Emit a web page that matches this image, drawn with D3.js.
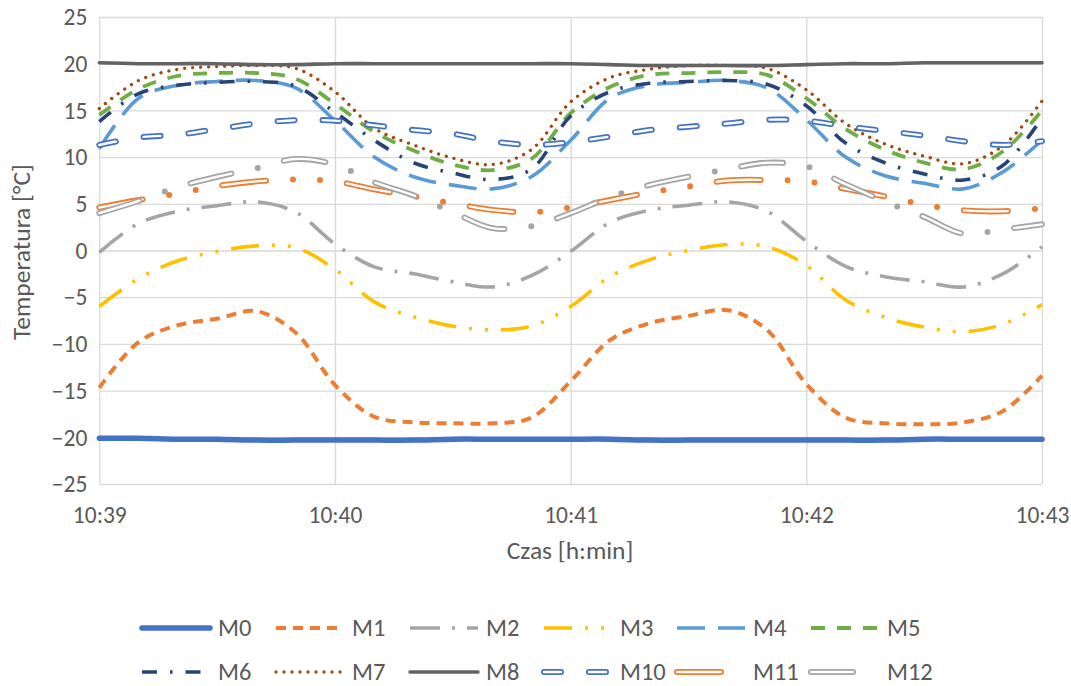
<!DOCTYPE html>
<html>
<head>
<meta charset="utf-8">
<script src="https://cdn.jsdelivr.net/npm/d3@7"></script>
<style>
  body { margin: 0; background: #ffffff; }
  text { font-family: Carlito, Lato, "Open Sans", sans-serif; fill: #595959; }
</style>
</head>
<body>
<svg id="chart" width="1071" height="686"></svg>
<script>
// ---- data (seconds after 10:39:00) ----
const times = [0,10,20,30,40,50,60,70,80,90,100,110,120,130,140,150,160,170,180,190,200,210,220,230,240];
const M0  = [-20.1,-20.1,-20.2,-20.2,-20.3,-20.3,-20.3,-20.3,-20.3,-20.2,-20.2,-20.2,-20.2,-20.2,-20.3,-20.3,-20.3,-20.3,-20.3,-20.3,-20.3,-20.2,-20.2,-20.2,-20.2];
const M1  = [-14.7,-9.8,-8.0,-7.3,-6.5,-8.8,-14.4,-17.8,-18.4,-18.5,-18.5,-17.9,-14.0,-9.6,-7.8,-7.0,-6.4,-8.5,-14.3,-17.9,-18.5,-18.6,-18.4,-17.2,-13.4];
const M2  = [-0.2,2.9,4.2,4.8,5.2,4.1,0.7,-1.75,-2.5,-3.35,-3.9,-2.7,-0.1,3.0,4.3,4.85,5.2,4.2,1.0,-1.7,-2.8,-3.35,-3.9,-2.5,0.4];
const M3  = [-6.0,-3.0,-1.1,-0.1,0.5,0.3,-2.0,-5.5,-7.1,-8.1,-8.5,-8.1,-6.0,-2.8,-1.0,0.0,0.65,0.4,-1.6,-5.3,-7.15,-8.2,-8.7,-7.9,-5.8];
const M4  = [10.9,16.3,17.7,18.1,18.2,17.4,13.9,10.0,7.9,7.0,6.6,7.9,11.8,16.3,17.7,18.0,18.2,17.4,14.0,10.0,8.0,7.2,6.6,8.4,11.8];
const M5  = [14.5,17.3,18.7,19.0,19.0,18.4,15.7,12.7,10.7,9.2,8.6,9.8,14.7,17.5,18.8,19.0,19.1,18.8,16.3,13.0,10.8,9.4,8.7,10.6,15.0];
const M6  = [13.8,16.8,17.7,18.0,18.1,17.6,14.8,11.8,9.4,8.3,7.6,8.7,14.4,17.0,17.9,18.1,18.2,17.8,15.5,11.5,9.4,8.2,7.55,9.1,14.2];
const M7  = [15.2,18.2,19.4,19.7,19.8,19.5,17.0,13.1,11.3,9.9,9.2,10.8,15.9,18.5,19.4,19.8,19.8,19.5,17.2,13.6,11.4,10.1,9.3,11.2,16.0];
const M8  = [20.1,20.0,20.0,20.0,19.9,19.9,20.0,20.0,20.0,20.0,20.0,20.0,20.0,19.9,19.8,19.8,19.8,19.8,19.9,20.0,20.0,20.1,20.1,20.1,20.1];
const M10 = [11.3,12.1,12.4,13.0,13.6,13.95,13.9,13.4,12.9,12.5,11.7,11.3,11.6,12.2,12.9,13.25,13.6,14.0,13.9,13.3,12.8,12.3,11.7,11.3,11.7];
const M11 = [4.6,5.4,6.1,6.9,7.4,7.6,7.4,6.55,5.8,5.05,4.35,4.1,4.6,5.4,6.2,6.85,7.5,7.55,7.4,6.6,5.8,4.9,4.3,4.2,4.5];
const M12 = [4.0,5.3,6.8,7.9,8.8,9.8,9.2,7.3,5.9,4.1,2.4,2.6,4.0,5.7,7.0,7.9,8.7,9.4,9.0,7.1,5.25,3.6,1.8,2.25,2.8];

const seriesNames = ["M0","M1","M2","M3","M4","M5","M6","M7","M8","M10","M11","M12"];
const seriesValues = [M0,M1,M2,M3,M4,M5,M6,M7,M8,M10,M11,M12];
const xTickValues = [0,60,120,180,240];
const xTickLabels = ["10:39","10:40","10:41","10:42","10:43"];
const yTickValues = [25,20,15,10,5,0,-5,-10,-15,-20,-25];
const xTitle = "Czas [h:min]";
const yTitle = "Temperatura [°C]";

// ---- styles ----
const styles = {
  M0:  {color:"#4472C4", width:5.5, dash:null, cap:"round"},
  M1:  {color:"#ED7D31", width:4,   dash:"10 7", cap:"butt"},
  M2:  {color:"#A5A5A5", width:3.6, dash:"30 12 3 12", cap:"butt"},
  M3:  {color:"#FFC000", width:3.6, dash:"28 13 3 13 3 13", cap:"butt"},
  M4:  {color:"#5B9BD5", width:3.6, dash:"28 13", cap:"butt"},
  M5:  {color:"#70AD47", width:3.8, dash:"14 12", cap:"butt"},
  M6:  {color:"#264478", width:3.6, dash:"15 13 2.5 13", cap:"butt"},
  M7:  {color:"#9E480E", width:3.3, dash:"0.01 8", cap:"round"},
  M8:  {color:"#636363", width:3.6, dash:null, cap:"round"},
  M10: {color:"#4472C4", width:6, dash:"17 28", cap:"round", inner:"17 28"},
  M11: {color:"#ED7D31", width:6, dash:"44 27 0 27 0 27", cap:"round", inner:"44 81"},
  M12: {color:"#A5A5A5", width:6, dash:"42 27 0 27", cap:"round", inner:"42 54"}
};

const svg = d3.select("#chart");
svg.append("rect").attr("width",1071).attr("height",686).attr("fill","#fff");

const x = d3.scaleLinear().domain([0,240]).range([99.3,1042]);
const y = d3.scaleLinear().domain([-25,25]).range([484,17]);

// gridlines via axes
const gx = svg.append("g").attr("transform","translate(0,484)")
  .call(d3.axisBottom(x).tickValues(xTickValues).tickSize(-(484-17)).tickFormat((d,i)=>xTickLabels[i]));
gx.select(".domain").remove();
gx.selectAll(".tick line").attr("stroke","#D9D9D9").attr("stroke-width",1.3);
gx.selectAll(".tick text").attr("y",0).attr("dy",0).attr("transform","translate(0,39)")
  .style("font-size","23.5px").attr("fill","#595959");

const gy = svg.append("g").attr("transform","translate(99.3,0)")
  .call(d3.axisLeft(y).tickValues(yTickValues).tickSize(-(1042-99.3)).tickFormat(d3.format("d")));
gy.select(".domain").remove();
gy.selectAll(".tick line").attr("stroke","#D9D9D9").attr("stroke-width",1.3);
gy.selectAll(".tick text").attr("x",-12).attr("dy","0.33em")
  .style("font-size","23.5px").attr("fill","#595959");

// titles
svg.append("text").attr("x",570).attr("y",559).attr("text-anchor","middle")
  .style("font-size","25.5px").text(xTitle);
svg.append("text").attr("transform","translate(30,252) rotate(-90)").attr("text-anchor","middle")
  .style("font-size","25.5px").text(yTitle);

// lines
const line = d3.line().x((d,i)=>x(times[i])).y(d=>y(d)).curve(d3.curveCatmullRom.alpha(0.5));
const plot = svg.append("g");

function drawStyled(g, pathD, st) {
  const p = g.append("path").attr("d",pathD).attr("fill","none")
    .attr("stroke",st.color).attr("stroke-width",st.width)
    .attr("stroke-linecap",st.cap).attr("stroke-linejoin","round");
  if (st.dash) p.attr("stroke-dasharray",st.dash);
  if (st.inner) {
    g.append("path").attr("d",pathD).attr("fill","none")
      .attr("stroke","#ffffff").attr("stroke-width",st.width-3.6)
      .attr("stroke-linecap","round").attr("stroke-linejoin","round")
      .attr("stroke-dasharray",st.inner);
  }
}

seriesNames.forEach((name,k)=>{
  drawStyled(plot, line(seriesValues[k]), styles[name]);
});

// legend
const legX = [142,276,410,544,677,811];
const legY = [628,672];
const leg = svg.append("g");
seriesNames.forEach((name,k)=>{
  const row = Math.floor(k/6), col = k%6;
  const x0 = legX[col], yy = legY[row];
  drawStyled(leg, `M${x0},${yy}L${x0+68},${yy}`, styles[name]);
  leg.append("text").attr("x",x0+76).attr("y",yy).attr("dy","0.33em")
    .style("font-size","24.5px").text(name);
});
</script>
</body>
</html>
